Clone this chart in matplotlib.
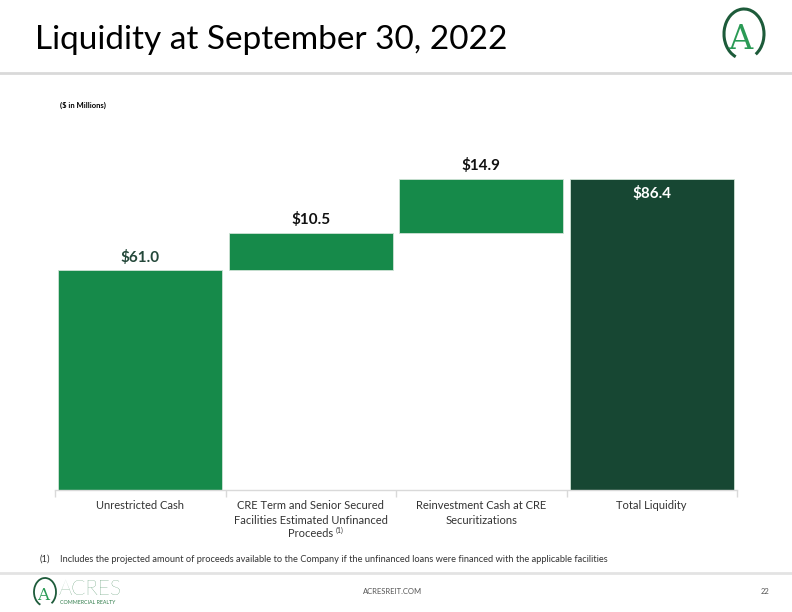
import matplotlib
matplotlib.use("Agg")
import matplotlib.pyplot as plt
import matplotlib.patches as patches
from matplotlib.lines import Line2D
import numpy as np

plt.rcParams['font.family'] = ['Lato', 'DejaVu Sans']

# 数据 ($ in Millions)
categories = ['Unrestricted Cash',
              'CRE Term and Senior Secured\nFacilities Estimated Unfinanced',
              'Reinvestment Cash at CRE\nSecuritizations',
              'Total Liquidity']
label_tail = 'Proceeds'   # 第二类标签的最后一行，后接上标 (1)
steps = [61.0, 10.5, 14.9]
total = 86.4
value_labels = ['$61.0', '$10.5', '$14.9', '$86.4']

GREEN = '#168A4A'
DARK = '#174733'

fig = plt.figure(figsize=(7.92, 6.12), dpi=100)

# 标题和分隔线
fig.text(35 / 792, 1 - 40 / 612, 'Liquidity at September 30, 2022',
         fontsize=24, color='black', ha='left', va='center')
fig.add_artist(Line2D([0, 1], [1 - 73 / 612] * 2, color='#d9d9d9', lw=2))
fig.add_artist(Line2D([0, 1], [1 - 573 / 612] * 2, color='#e3e3e3', lw=2))
fig.text(60 / 792, 1 - 105 / 612, '($ in Millions)', fontsize=5.5,
         fontweight='bold', ha='left', va='center')

# 瀑布图
ax = fig.add_axes([55 / 792, 1 - 490 / 612, 682 / 792, 360 / 612])
x = np.arange(len(categories))
bottoms = [0.0] + list(np.cumsum(steps)[:-1]) + [0.0]
heights = steps + [total]
colors = [GREEN] * len(steps) + [DARK]
ax.bar(x, heights, bottom=bottoms, width=0.96, color=colors,
       edgecolor='#cfe3d6', linewidth=0.6, zorder=2)

for i, (b, h) in enumerate(zip(bottoms, heights)):
    if i == len(heights) - 1:
        ax.text(i, b + h - 4.0, value_labels[i], ha='center', va='center',
                fontsize=11, fontweight='bold', color='white')
    else:
        c = '#24483a' if i == 0 else '#111111'
        ax.text(i, b + h + 3.6, value_labels[i], ha='center', va='center',
                fontsize=11, fontweight='bold', color=c)

ax.set_xlim(-0.5, len(categories) - 0.5)
ax.set_ylim(0, 100)
ax.set_yticks([])
for s in ['top', 'right', 'left']:
    ax.spines[s].set_visible(False)
ax.spines['bottom'].set_color('#d9d9d9')
ax.spines['bottom'].set_linewidth(1.0)
ax.set_xticks(x)
ax.set_xticklabels(categories, fontsize=8, color='#333333', linespacing=1.45)
ax.tick_params(axis='x', which='major', length=0, pad=7)
ax.set_xticks(np.arange(-0.5, len(categories)), minor=True)
ax.tick_params(axis='x', which='minor', length=5, color='#d9d9d9', width=1.0)

# 第二类标签最后一行 + 上标 (1)
fig.canvas.draw()
renderer = fig.canvas.get_renderer()
bb = ax.get_xticklabels()[1].get_window_extent(renderer)
cx = (bb.x0 + bb.x1) / 2
tail = fig.text(cx / 792, (bb.y0 - 2) / 612, label_tail, fontsize=8,
                color='#333333', ha='center', va='top')
tbb = tail.get_window_extent(renderer)
fig.text((tbb.x1 + 2) / 792, (tbb.y1 - 3) / 612, '(1)',
         fontsize=5, color='#333333', ha='left', va='center')

# 脚注
fig.text(40 / 792, 1 - 559 / 612, '(1)', fontsize=6.8, color='#333333', va='center')
fig.text(60 / 792, 1 - 559 / 612,
         'Includes the projected amount of proceeds available to the Company if the unfinanced loans were financed with the applicable facilities',
         fontsize=6.7, color='#333333', va='center')

# 页脚
fig.text(393 / 792, 1 - 592 / 612, 'ACRESREIT.COM', fontsize=5.5, color='#555555',
         ha='center', va='center')
fig.text(765 / 792, 1 - 592 / 612, '22', fontsize=5.5, color='#555555',
         ha='center', va='center')

# 右上角 logo
lax = fig.add_axes([712 / 792, 1 - 70 / 612, 60 / 792, 64 / 612])
lax.set_xlim(0, 60)
lax.set_ylim(0, 64)
lax.axis('off')
lax.add_patch(patches.Arc((32, 36), 40, 50, theta1=-60, theta2=250,
                          color='#1d5b3a', lw=2.2))
lax.text(28, 30, 'A', fontsize=24, family='DejaVu Serif', color='#2a9a55',
         ha='center', va='center')

# 页脚 logo
fax = fig.add_axes([28 / 792, 1 - 610 / 612, 110 / 792, 36 / 612])
fax.set_xlim(0, 110)
fax.set_ylim(0, 36)
fax.axis('off')
fax.add_patch(patches.Arc((17, 18), 22, 28, theta1=-60, theta2=250,
                          color='#1d5b3a', lw=1.3))
fax.text(15, 15, 'A', fontsize=12, family='DejaVu Serif', color='#2a9a55',
         ha='center', va='center')
fax.text(31, 21, 'ACRES', fontsize=15, color='#2f7d4a', ha='left', va='center',
         fontweight='light')
fax.text(32, 8, 'COMMERCIAL REALTY', fontsize=3.8, color='#2f7d4a',
         ha='left', va='center')

fig.savefig('out.png', dpi=100)
